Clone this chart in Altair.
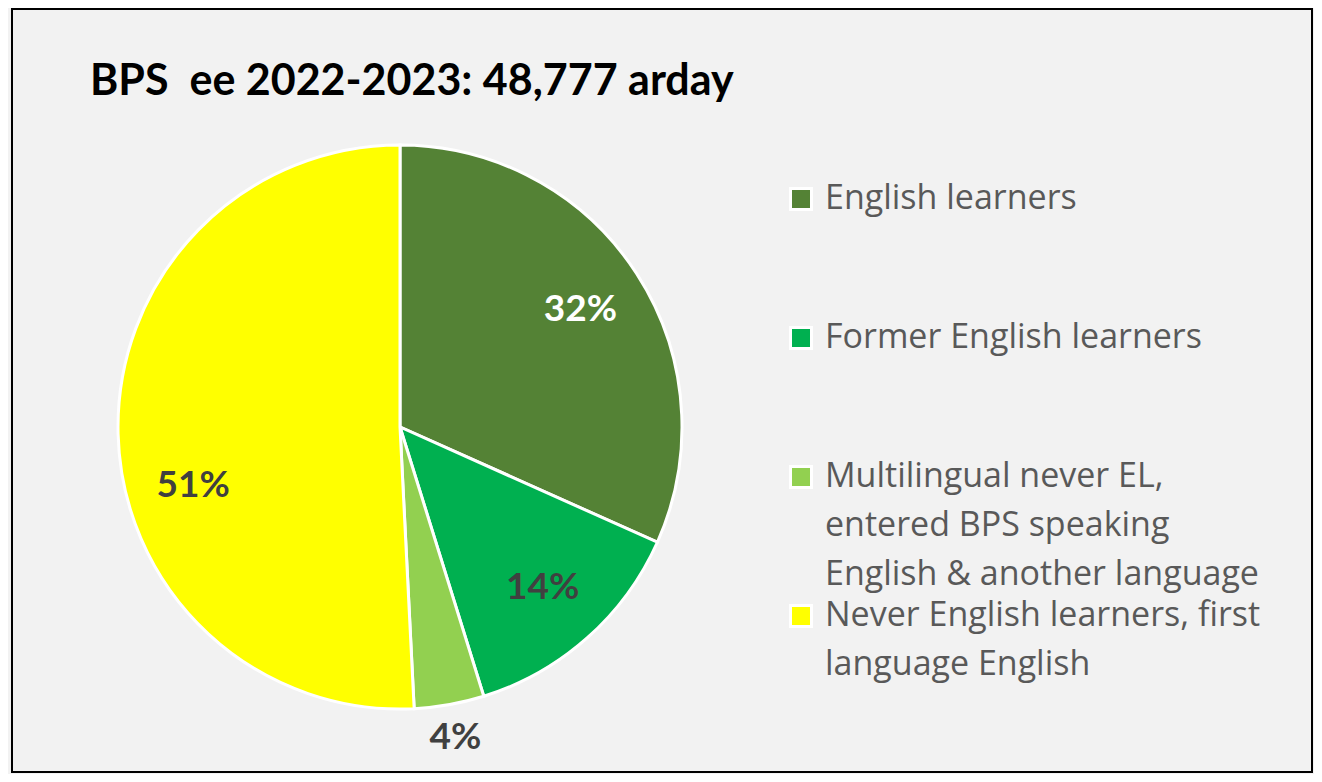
import altair as alt
import pandas as pd

categories = [
    "English learners",
    "Former English learners",
    "Multilingual never EL, entered BPS speaking English & another language",
    "Never English learners, first language English",
]
shares = [31.7, 13.5, 4.0, 50.8]
labels = ["32%", "14%", "4%", "51%"]
colors = ["#548235", "#00b050", "#92d050", "#ffff00"]
legend_lines = [
    ["English learners", " ", " "],
    ["Former English learners", " ", " "],
    ["Multilingual never EL,", "entered BPS speaking", "English & another language"],
    ["Never English learners, first", "language English"],
]
title_text = "BPS\u00a0 ee 2022-2023: 48,777 arday"

df = pd.DataFrame({
    "category": categories,
    "share": shares,
    "label": labels,
    "order": list(range(len(categories))),
})

# legend label expression: map each category to its multi-line label
parts = []
for cat, lines in zip(categories, legend_lines):
    arr = "[" + ",".join("'" + l.replace("'", "\\'") + "'" for l in lines) + "]"
    parts.append(f"datum.label == '{cat}' ? {arr}")
label_expr = " : ".join(parts) + " : datum.label"

W, H = 1300, 763
cx, cy, R = 388, 418, 282

base = alt.Chart(df).encode(
    theta=alt.Theta("share:Q", stack=True),
    order=alt.Order("order:Q"),
)

pie = base.mark_arc(outerRadius=R, stroke="white", strokeWidth=3, x=cx, y=cy).encode(
    color=alt.Color(
        "category:N",
        sort=categories,
        scale=alt.Scale(domain=categories, range=colors),
        legend=alt.Legend(
            title=None,
            orient="none",
            legendX=772,
            legendY=173,
            symbolType="square",
            symbolSize=441,
            symbolStrokeColor="white",
            symbolStrokeWidth=3,
            symbolOpacity=1,
            labelFont="Open Sans",
            labelFontSize=34,
            labelColor="#595959",
            labelLimit=700,
            labelOffset=7,
            labelBaseline="alphabetic",
            labelExpr=label_expr,
            rowPadding=7,
            padding=0,
        ),
    ),
)

inner = base.transform_filter(alt.datum.share >= 5).mark_text(
    radius=215, x=cx, y=cy, font="Lato", fontSize=37, fontWeight="bold"
).encode(
    text="label:N",
    color=alt.condition(alt.datum.order == 0, alt.value("white"), alt.value("#404040")),
)

outer = base.mark_text(
    radius=316, x=cx, y=cy, font="Lato", fontSize=37, fontWeight="bold", color="#404040"
).encode(
    text=alt.condition(alt.datum.share < 5, "label:N", alt.value("")),
)

frame = alt.Chart(pd.DataFrame({"frame": [0]})).mark_rect(
    fillOpacity=0, stroke="black", strokeWidth=2
).encode(
    x=alt.value(0), x2=alt.value(W), y=alt.value(0), y2=alt.value(H)
)

chart = alt.layer(pie, inner, outer, frame).properties(
    width=W,
    height=H,
    padding={"left": 4, "top": 1, "right": 2, "bottom": 2},
    autosize=alt.AutoSizeParams(type="none"),
    background="#f2f2f2",
    title=alt.TitleParams(
        title_text,
        anchor="start",
        frame="group",
        orient="top",
        dx=78,
        offset=-130,
        baseline="alphabetic",
        font="Lato",
        fontSize=43,
        fontWeight="bold",
        color="black",
    ),
).configure(
    style={"guide-label": {"lineHeight": 49, "dy": 10}}
).configure_view(
    stroke="black", strokeWidth=2, fill="#f2f2f2"
)

chart.save("out.html", embed_options={"renderer": "svg", "actions": False})
